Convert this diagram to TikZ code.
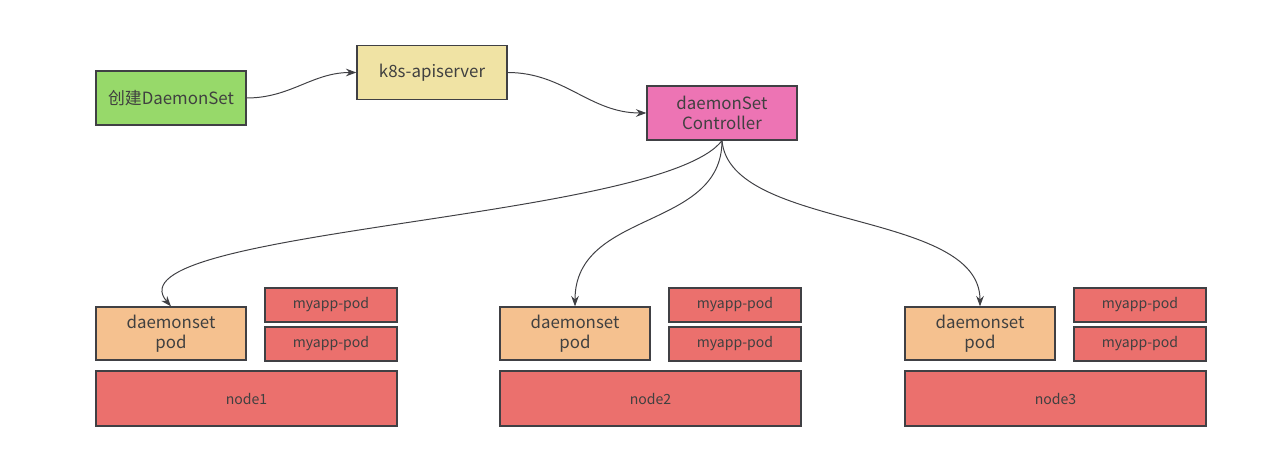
\documentclass[tikz,border=0pt]{standalone}
\usepackage{fontspec}
\setmainfont{Noto Sans CJK SC}
\usepackage{tikz}
\usetikzlibrary{positioning}
\usetikzlibrary{arrows.meta}
\definecolor{boxline}{RGB}{64,64,68}
\definecolor{createfill}{RGB}{151,217,106}
\definecolor{apifill}{RGB}{240,227,164}
\definecolor{ctrlfill}{RGB}{237,116,180}
\definecolor{dspodfill}{RGB}{245,193,143}
\definecolor{appfill}{RGB}{235,112,109}
\tikzset{
    % Tips used on every connector
    >={Stealth[length=2.6mm, width=1.9mm]},
%
    % Common look of the boxes
    box/.style={
        draw=boxline, line width=0.9pt, rectangle, inner sep=0,
        align=center, text=black!75,
        font=\fontsize{12}{14.5}\selectfont},
%
    % Upper row of boxes
    top box/.style={box, minimum width=37.5mm, minimum height=13.5mm},
%
    % Boxes standing on each node
    dspod box/.style={box, fill=dspodfill,
        minimum width=37.5mm, minimum height=13.25mm},
    app box/.style={box, fill=appfill, font=\fontsize{10}{12}\selectfont,
        minimum width=33mm, minimum height=8.5mm},
    host box/.style={box, fill=appfill, font=\fontsize{10}{12}\selectfont,
        minimum width=75.25mm, minimum height=13.75mm},
%
    % Connectors
    link/.style={->, draw=boxline, line width=0.7pt}}

\begin{document}
\begin{tikzpicture}

\useasboundingbox (0,0) rectangle (316.25mm,113.75mm);

% Creation request going through the apiserver to the controller
\path[xshift=42.75mm, yshift=89.25mm]
    node[top box, fill=createfill] (create ds) {创建DaemonSet}
    ++(65.25mm,6.375mm) node[top box, fill=apifill] (apiserver) {k8s-apiserver}
    ++(72.5mm,-10.125mm) node[top box, fill=ctrlfill]
        (ds controller) {daemonSet\\Controller};

\draw[link] (create ds.east) to[out=0, in=180] (apiserver.west);
\draw[link] (apiserver.east) to[out=0, in=180] (ds controller.west);

% node1 with its pods
\path[xshift=42.75mm, yshift=30.375mm]
    node[dspod box] (ds pod 1) {daemonset\\pod}
    ++(40mm,7.125mm) node[app box] (app pod 1a) {myapp-pod}
    ++(0mm,-9.75mm) node[app box] (app pod 1b) {myapp-pod}
    ++(-21.125mm,-13.625mm) node[host box] (node 1) {node1};

% node2 with its pods
\path[xshift=143.75mm, yshift=30.375mm]
    node[dspod box] (ds pod 2) {daemonset\\pod}
    ++(40mm,7.125mm) node[app box] (app pod 2a) {myapp-pod}
    ++(0mm,-9.75mm) node[app box] (app pod 2b) {myapp-pod}
    ++(-21.125mm,-13.625mm) node[host box] (node 2) {node2};

% node3 with its pods
\path[xshift=245mm, yshift=30.375mm]
    node[dspod box] (ds pod 3) {daemonset\\pod}
    ++(40mm,7.125mm) node[app box] (app pod 3a) {myapp-pod}
    ++(0mm,-9.75mm) node[app box] (app pod 3b) {myapp-pod}
    ++(-21.125mm,-13.625mm) node[host box] (node 3) {node3};

% The controller puts one daemonset pod on every node
\draw[link] (ds controller.south)
    .. controls +(-15.5mm,-20mm) and +(-16.5mm,19.25mm) .. (ds pod 1.north);
\draw[link] (ds controller.south)
    .. controls +(0mm,-22.5mm) and +(0mm,24.25mm) .. (ds pod 2.north);
\draw[link] (ds controller.south)
    .. controls +(2mm,-22.5mm) and +(0mm,24.25mm) .. (ds pod 3.north);

\end{tikzpicture}
\end{document}
